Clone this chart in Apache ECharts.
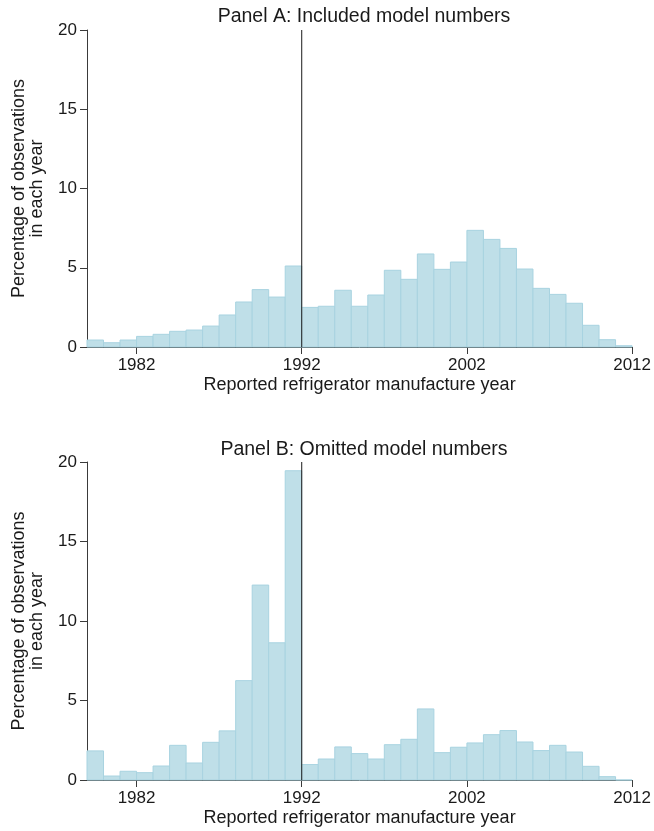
<!DOCTYPE html>
<html>
<head>
<meta charset="utf-8">
<script src="https://cdn.jsdelivr.net/npm/echarts@6/dist/echarts.min.js"></script>
<style>
html,body{margin:0;padding:0;background:#fff;}
#chart{width:654px;height:831px;}
</style>
</head>
<body>
<div id="chart"></div>
<script>
// ---- data ----
const years = [1979,1980,1981,1982,1983,1984,1985,1986,1987,1988,1989,1990,1991,
  1992,1993,1994,1995,1996,1997,1998,1999,2000,2001,2002,2003,2004,2005,2006,2007,2008,2009,2010,2011];
const panelA = [0.44,0.27,0.44,0.67,0.80,0.99,1.07,1.32,2.02,2.84,3.62,3.15,5.11,
  2.50,2.57,3.58,2.57,3.28,4.84,4.27,5.87,4.90,5.36,7.36,6.79,6.22,4.92,3.70,3.32,2.76,1.37,0.46,0.08];
const panelB = [1.83,0.25,0.55,0.46,0.88,2.18,1.07,2.37,3.09,6.25,12.26,8.63,19.45,
  0.97,1.32,2.08,1.66,1.32,2.22,2.56,4.47,1.72,2.06,2.33,2.85,3.11,2.39,1.85,2.18,1.76,0.86,0.21,0];
const xTicks = [1982,1992,2002,2012];
const cutoffYear = 1992;
const titles = ['Panel A: Included model numbers','Panel B: Omitted model numbers'];
const xName = 'Reported refrigerator manufacture year';
const yName = 'Percentage of observations\nin each year';

// ---- chart ----
const FONT = 'Liberation Sans, Arial, sans-serif';
const TXT = '#1a1a1a';
const AX = '#3a3a3a';
const chart = echarts.init(document.getElementById('chart'), null, {renderer:'canvas'});

function barRender(params, api){
  const y = api.value(0), v = api.value(1);
  const p0 = api.coord([y, 0]);
  const p1 = api.coord([y + 1, v]);
  return {type:'rect', shape:{x:p0[0], y:p1[1], width:p1[0]-p0[0], height:p0[1]-p1[1]},
    style:{fill:'#bfdfe8', stroke:'#a8d3e0', lineWidth:1}};
}

function xAxisCfg(gi){
  return {gridIndex:gi, type:'value', min:1979, max:2012,
    axisLine:{show:true, lineStyle:{color:AX, width:1}},
    axisTick:{show:true, length:7, lineStyle:{color:AX}, customValues:xTicks},
    axisLabel:{show:true, customValues:xTicks, margin:10, fontSize:17, color:TXT, fontFamily:FONT,
      formatter:(v)=>String(v)},
    splitLine:{show:false},
    name:xName, nameLocation:'middle', nameGap:29,
    nameTextStyle:{fontSize:18, color:TXT, fontFamily:FONT}};
}
function yAxisCfg(gi){
  return {gridIndex:gi, type:'value', min:0, max:20, interval:5,
    axisLine:{show:true, lineStyle:{color:AX, width:1}},
    axisTick:{show:true, length:7, lineStyle:{color:AX}},
    axisLabel:{margin:10, fontSize:17, color:TXT, fontFamily:FONT},
    splitLine:{show:false},
    name:yName, nameLocation:'middle', nameGap:41, nameRotate:90,
    nameTextStyle:{fontSize:18, lineHeight:18, color:TXT, fontFamily:FONT, align:'center'}};
}

const dataA = years.map((y,i)=>[y, panelA[i]]);
const dataB = years.map((y,i)=>[y, panelB[i]]);

chart.setOption({
  animation:false,
  backgroundColor:'#fff',
  title:[
    {text:titles[0], left:359, top:2, textAlign:'center',
      textStyle:{fontSize:19.5, fontWeight:'normal', color:TXT, fontFamily:FONT}},
    {text:titles[1], left:359, top:435, textAlign:'center',
      textStyle:{fontSize:19.5, fontWeight:'normal', color:TXT, fontFamily:FONT}}
  ],
  grid:[
    {left:87, width:546, top:30, height:317},
    {left:87, width:546, top:462, height:318}
  ],
  xAxis:[xAxisCfg(0), xAxisCfg(1)],
  yAxis:[yAxisCfg(0), yAxisCfg(1)],
  series:[
    {type:'custom', xAxisIndex:0, yAxisIndex:0, data:dataA, renderItem:barRender, encode:{x:0,y:1}},
    {type:'custom', xAxisIndex:1, yAxisIndex:1, data:dataB, renderItem:barRender, encode:{x:0,y:1}},
    {type:'line', xAxisIndex:0, yAxisIndex:0, data:[[cutoffYear,0],[cutoffYear,20]], symbol:'none',
      lineStyle:{color:'#1a1a1a', width:1}, z:5},
    {type:'line', xAxisIndex:1, yAxisIndex:1, data:[[cutoffYear,0],[cutoffYear,20]], symbol:'none',
      lineStyle:{color:'#1a1a1a', width:1}, z:5}
  ]
});
</script>
</body>
</html>
